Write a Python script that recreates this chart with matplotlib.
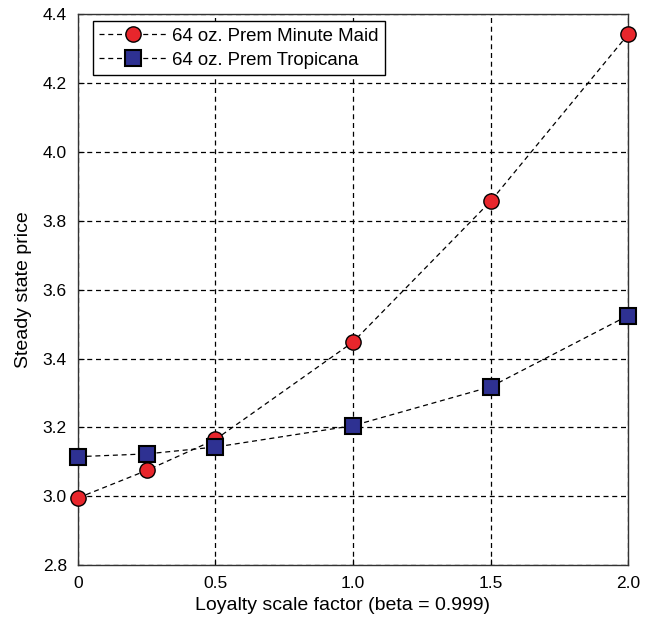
import matplotlib
matplotlib.use("Agg")
import matplotlib.pyplot as plt

plt.rcParams['font.family'] = ['Liberation Sans', 'DejaVu Sans']

beta = [0, 0.25, 0.5, 1.0, 1.5, 2.0]
minute_maid = [2.995, 3.075, 3.165, 3.448, 3.857, 4.342]
tropicana = [3.115, 3.123, 3.143, 3.205, 3.318, 3.525]
xticks = [0, 0.5, 1.0, 1.5, 2.0]
xticklabels = ['0', '0.5', '1.0', '1.5', '2.0']
yticks = [2.8, 3.0, 3.2, 3.4, 3.6, 3.8, 4.0, 4.2, 4.4]

fig = plt.figure(figsize=(6.49, 6.21), dpi=100)
ax = fig.add_axes([0.120, 0.090, 0.848, 0.887])

ax.plot(beta, minute_maid, linestyle=(0, (4, 3)), color='black', linewidth=0.9,
        marker='o', markersize=11, markerfacecolor='#e8262c', markeredgecolor='black',
        markeredgewidth=1.0, label='64 oz. Prem Minute Maid', zorder=3, clip_on=False)
ax.plot(beta, tropicana, linestyle=(0, (4, 3)), color='black', linewidth=0.9,
        marker='s', markersize=11, markerfacecolor='#2e3192', markeredgecolor='black',
        markeredgewidth=1.5, label='64 oz. Prem Tropicana', zorder=4, clip_on=False)

ax.set_xlim(0, 2.0)
ax.set_ylim(2.8, 4.4)
ax.set_xticks(xticks)
ax.set_xticklabels(xticklabels)
ax.set_yticks(yticks)
ax.set_yticklabels([f'{v:.1f}' for v in yticks])
ax.grid(True, linestyle=(0, (4, 3)), color='black', linewidth=0.9)
ax.tick_params(direction='in', length=4, labelsize=12.5, pad=8)
for s in ax.spines.values():
    s.set_linewidth(1.0)
    s.set_color('#333333')

ax.set_xlabel('Loyalty scale factor (beta = 0.999)', fontsize=14)
ax.xaxis.set_label_coords(0.48, -0.058)
ax.set_ylabel('Steady state price', fontsize=14, labelpad=8)

leg = ax.legend(loc='upper left', bbox_to_anchor=(0.027, 0.987), fontsize=13.4,
                frameon=True, fancybox=False, edgecolor='black', framealpha=1,
                borderaxespad=0.0, handlelength=3.6, handletextpad=0.3,
                borderpad=0.35, labelspacing=0.35)
leg.get_frame().set_linewidth(1.0)

fig.savefig('out.png', dpi=100)
